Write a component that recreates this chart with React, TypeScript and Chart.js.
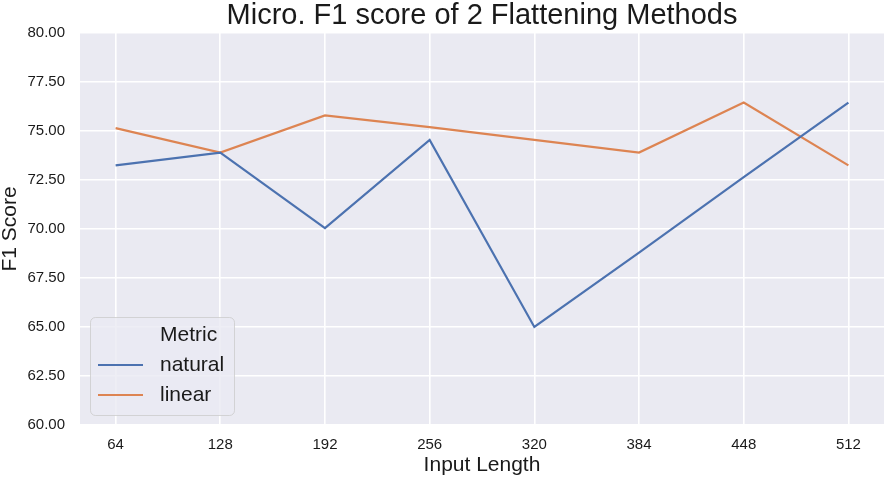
import React, { useEffect, useRef } from "react";
import { Chart, registerables } from "chart.js";

Chart.register(...registerables);

const categories = ["64", "128", "192", "256", "320", "384", "448", "512"];
const naturalValues = [73.25, 73.9, 70.05, 74.55, 65.0, 68.8, 72.65, 76.45];
const linearValues = [75.15, 73.9, 75.8, 75.2, 74.55, 73.9, 76.45, 73.25];
const seriesNames = ["natural", "linear"];
const legendTitle = "Metric";
const yTicks = [60, 62.5, 65, 67.5, 70, 72.5, 75, 77.5, 80];

const BLUE = "#4C72B0";
const ORANGE = "#DD8452";
const FONT = '"Liberation Sans", Arial, Helvetica, sans-serif';
const TEXT = "#1a1a1a";

const bgPlugin = {
  id: "plotBg",
  beforeDraw(chart: any) {
    const { ctx, chartArea } = chart;
    ctx.save();
    ctx.fillStyle = "#EAEAF2";
    ctx.fillRect(chartArea.left, chartArea.top, chartArea.right - chartArea.left, chartArea.bottom - chartArea.top);
    ctx.restore();
  },
};

const legendPlugin = {
  id: "insideLegend",
  afterDraw(chart: any) {
    const { ctx, chartArea } = chart;
    const w = 144;
    const h = 98;
    const x = chartArea.left + 10;
    const y = chartArea.bottom - 10 - h;
    ctx.save();
    ctx.beginPath();
    ctx.roundRect(x + 0.5, y + 0.5, w, h, 5);
    ctx.fillStyle = "rgba(234,234,242,0.8)";
    ctx.fill();
    ctx.strokeStyle = "rgba(204,204,204,0.8)";
    ctx.lineWidth = 1;
    ctx.stroke();
    ctx.font = `21px ${FONT}`;
    ctx.textBaseline = "middle";
    ctx.textAlign = "left";
    ctx.fillStyle = TEXT;
    const textX = x + 70;
    ctx.fillText(legendTitle, textX, y + 18);
    const colors = [BLUE, ORANGE];
    seriesNames.forEach((name, i) => {
      const ry = y + 48 + i * 30;
      ctx.strokeStyle = colors[i];
      ctx.lineWidth = 2.2;
      ctx.beginPath();
      ctx.moveTo(x + 8, ry);
      ctx.lineTo(x + 53, ry);
      ctx.stroke();
      ctx.fillStyle = TEXT;
      ctx.fillText(name, textX, ry);
    });
    ctx.restore();
  },
};

export default function App() {
  const ref = useRef<HTMLCanvasElement>(null);

  useEffect(() => {
    if (!ref.current) return;
    const chart = new Chart(ref.current, {
      type: "line",
      data: {
        datasets: [
          {
            label: seriesNames[0],
            data: naturalValues.map((v, i) => ({ x: i, y: v })),
            borderColor: BLUE,
            backgroundColor: BLUE,
            borderWidth: 2.2,
            pointRadius: 0,
            tension: 0,
          },
          {
            label: seriesNames[1],
            data: linearValues.map((v, i) => ({ x: i, y: v })),
            borderColor: ORANGE,
            backgroundColor: ORANGE,
            borderWidth: 2.2,
            pointRadius: 0,
            tension: 0,
          },
        ],
      },
      options: {
        responsive: false,
        animation: false,
        layout: { padding: { left: 0, right: 2, top: 0, bottom: 0 } },
        plugins: {
          legend: { display: false },
          tooltip: { enabled: false },
          title: {
            display: true,
            fullSize: false,
            text: "Micro. F1 score of 2 Flattening Methods",
            color: TEXT,
            font: { family: FONT, size: 29, weight: "normal", lineHeight: 1.07 },
            padding: { top: 0, bottom: 2 },
          },
        },
        scales: {
          x: {
            type: "linear",
            min: -0.34,
            max: categories.length - 1 + 0.34,
            afterBuildTicks: (scale: any) => {
              scale.ticks = categories.map((_, i) => ({ value: i }));
            },
            afterFit: (scale: any) => {
              scale.height = 53;
            },
            ticks: {
              callback: (v: any) => categories[Math.round(Number(v))] ?? "",
              color: TEXT,
              font: { family: FONT, size: 15 },
              padding: 11,
              maxRotation: 0,
              autoSkip: false,
            },
            grid: { color: "#ffffff", lineWidth: 1.6, drawTicks: false },
            border: { display: false },
            title: {
              display: true,
              text: "Input Length",
              color: TEXT,
              font: { family: FONT, size: 21, lineHeight: 1.2 },
              padding: 0,
            },
          },
          y: {
            min: 60,
            max: 80,
            afterBuildTicks: (scale: any) => {
              scale.ticks = yTicks.map((v) => ({ value: v }));
            },
            afterFit: (scale: any) => {
              scale.width = 80;
            },
            ticks: {
              callback: (v: any) => Number(v).toFixed(2),
              color: TEXT,
              font: { family: FONT, size: 15 },
              padding: 15,
            },
            grid: { color: "#ffffff", lineWidth: 1.6, drawTicks: false },
            border: { display: false },
            title: {
              display: true,
              text: "F1 Score",
              color: TEXT,
              font: { family: FONT, size: 21, lineHeight: 1 },
              padding: 0,
            },
          },
        },
      },
      plugins: [bgPlugin, legendPlugin],
    } as any);
    return () => chart.destroy();
  }, []);

  return (
    <div style={{ position: "absolute", left: 0, top: 0, width: 886, height: 478, background: "#fff" }}>
      <canvas ref={ref} width={886} height={478} />
    </div>
  );
}
